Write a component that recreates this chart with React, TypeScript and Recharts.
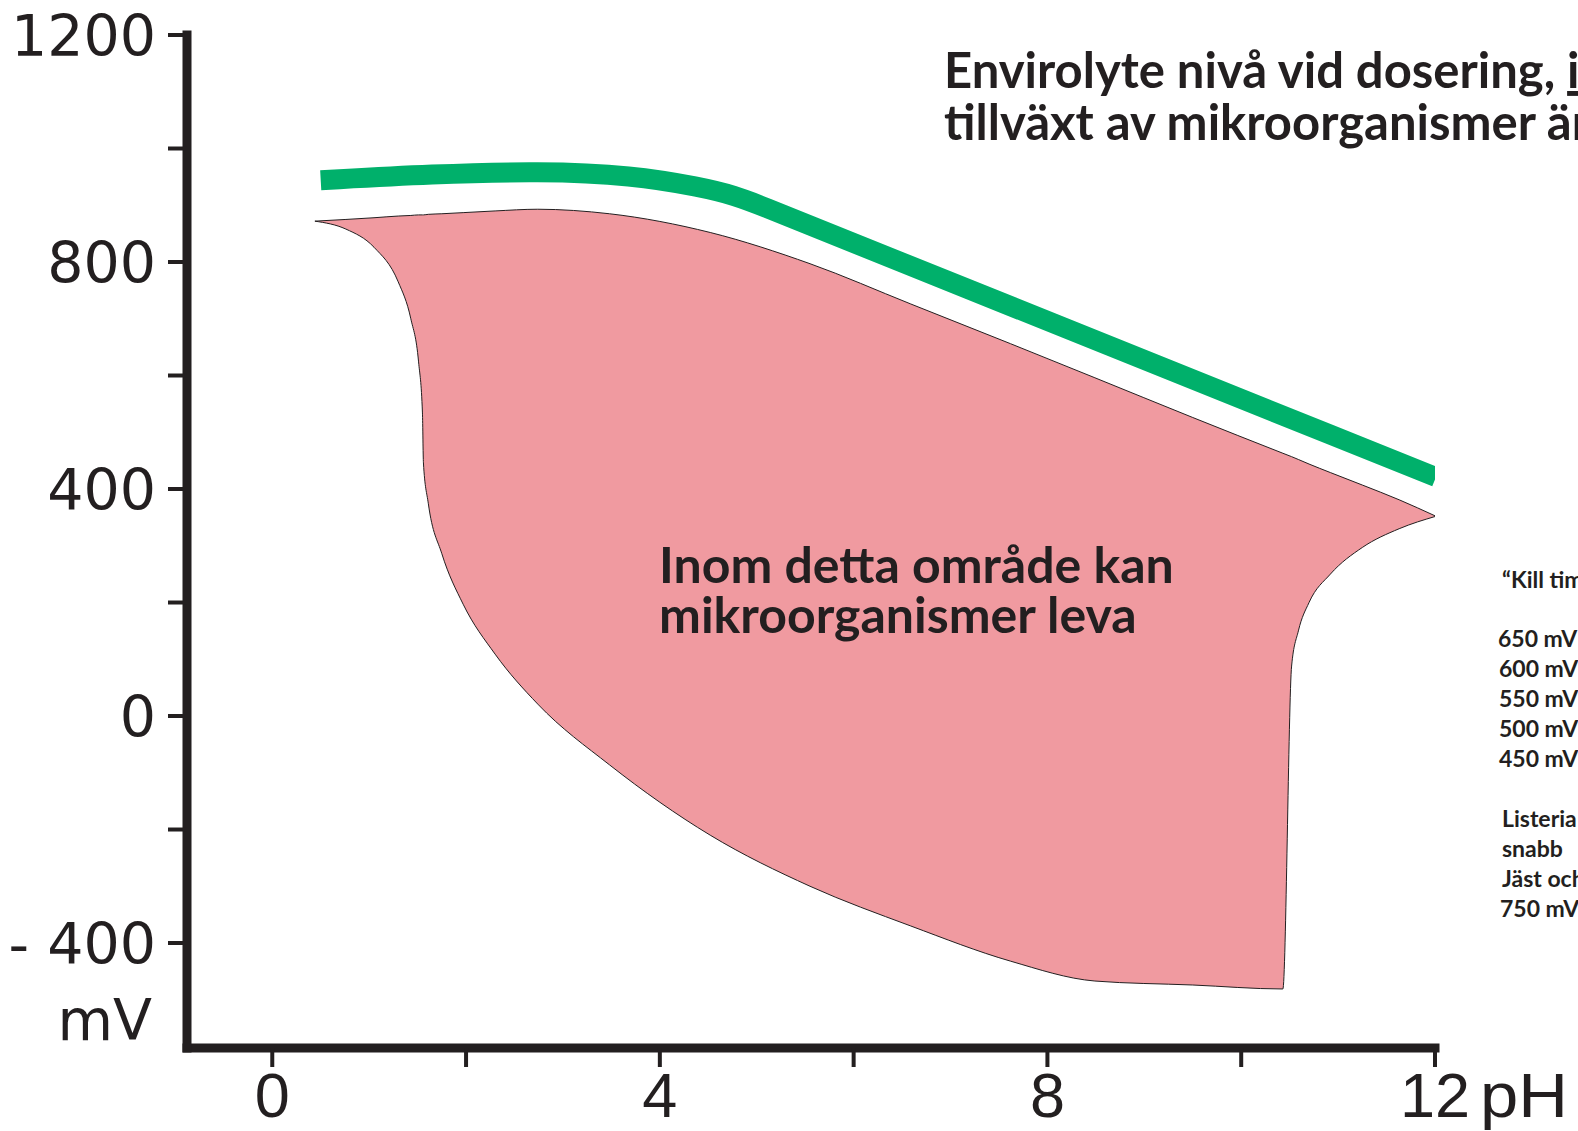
import React from 'react';
import { ComposedChart, Area, Line, XAxis, YAxis } from 'recharts';

const phTicks = [0, 2, 4, 6, 8, 10, 12];
const phLabels = [0, 4, 8, 12];
const mvTicks = [-400, -200, 0, 200, 400, 600, 800, 1000, 1200];
const mvLabels = [-400, 0, 400, 800, 1200];

// Envirolyte dosing level (green band)
const dosePh = [0.5, 1.66, 2.76, 3.72, 4.42, 4.76, 5.11, 5.45, 12.01];
const doseMv = [944, 955, 960, 953, 932, 918, 895, 871, 421];

// zone where micro-organisms can live (pink), lower and upper edge in mV
const zonePh = [0.44, 0.76, 1.05, 1.3, 1.43, 1.51, 1.55, 1.56, 1.61, 1.75, 1.97, 2.3, 2.74, 3.48, 4.52, 5.55, 6.59, 7.62, 8.49, 9.5, 10.43, 10.52, 10.59, 10.7, 10.92, 11.25, 11.63, 12.01];
const zoneLow = [872, 858, 826, 765, 700, 624, 534, 446, 375, 286, 197, 109, 21, -86, -210, -300, -370, -432, -467, -474, -481, 88, 150, 200, 250, 297, 330, 352];
const zoneHigh = [872, 875, 878, 881, 882, 883, 883, 883, 884, 885, 887, 890, 893, 885, 852, 797, 726, 656, 596, 526, 463, 457, 452, 444, 429, 407, 381, 352];

const killLines = ['“Kill time”', '', '650  mV', '600 mV', '550 mV', '500 mV', '450 mV', '', 'Listeria', 'snabb', 'Jäst och', '750 mV'];
const killX = [1502, 0, 1498, 1499, 1499, 1499, 1499, 0, 1502, 1502, 1502, 1500];

const doseData = dosePh.map((ph, i) => ({ ph, mv: doseMv[i] }));
const zoneData = zonePh.map((ph, i) => ({ ph, range: [zoneLow[i], zoneHigh[i]] }));

const INK = '#231f20';
const boldFont = "Lato, 'Open Sans', sans-serif";
const axisFont = "'Liberation Sans', Arial, sans-serif";

const MvTick = (props: any) => {
  const { x, y, payload } = props;
  if (!mvLabels.includes(payload.value)) return <g />;
  const v = payload.value;
  const label = v < 0 ? `- ${Math.abs(v)}` : String(v);
  return (
    <text x={x - 10} y={y} dy={21} textAnchor="end" fill={INK}
      style={{ fontFamily: "'DejaVu Sans', sans-serif", fontSize: 57 }}>
      {label}
    </text>
  );
};

const PhTick = (props: any) => {
  const { x, y, payload } = props;
  if (!phLabels.includes(payload.value)) return <g />;
  return (
    <g>
      <text x={x} y={y} dy={48} textAnchor="middle" fill={INK} style={{ fontFamily: axisFont, fontSize: 63 }}>
        {payload.value}
      </text>
      {payload.value === 12 && (
        <text x={x + 45} y={y} dy={48} fill={INK} textLength={88} lengthAdjust="spacingAndGlyphs"
          style={{ fontFamily: axisFont, fontSize: 63 }}>
          pH
        </text>
      )}
    </g>
  );
};

export default function App() {
  return (
    <div style={{ position: 'absolute', left: 0, top: 0, width: 1578, height: 1131, overflow: 'hidden', background: '#fff' }}>
      <ComposedChart width={1578} height={1131} margin={{ top: 35, right: 143, bottom: 0, left: 0 }}>
        <XAxis
          type="number"
          dataKey="ph"
          domain={[-0.88, 12]}
          ticks={phTicks}
          interval={0}
          allowDataOverflow
          height={83}
          tickSize={19}
          axisLine={{ stroke: INK, strokeWidth: 9, strokeLinecap: 'square' }}
          tickLine={{ stroke: INK, strokeWidth: 4 }}
          tick={PhTick}
        />
        <YAxis
          type="number"
          domain={[-585, 1200]}
          ticks={mvTicks}
          interval={0}
          allowDataOverflow
          width={187}
          tickSize={19}
          axisLine={{ stroke: INK, strokeWidth: 9, strokeLinecap: 'square' }}
          tickLine={{ stroke: INK, strokeWidth: 4 }}
          tick={MvTick}
        />
        <Area
          data={zoneData}
          dataKey="range"
          type="monotone"
          fill="#f09aa0"
          fillOpacity={1}
          stroke={INK}
          strokeWidth={1}
          isAnimationActive={false}
        />
        <Line
          data={doseData}
          dataKey="mv"
          type="basis"
          stroke="#00b06b"
          strokeWidth={20}
          strokeLinecap="butt"
          dot={false}
          activeDot={false}
          isAnimationActive={false}
        />
      </ComposedChart>

      <svg width={1578} height={1131} style={{ position: 'absolute', left: 0, top: 0, pointerEvents: 'none' }}>
        <text x={152} y={1040} textAnchor="end" fill={INK} style={{ fontFamily: "'DejaVu Sans', sans-serif", fontSize: 57 }}>
          mV
        </text>
        <text fill={INK} style={{ fontFamily: boldFont, fontWeight: 700, fontSize: 49 }}>
          <tspan x={944} y={88}>
            Envirolyte nivå vid dosering, <tspan textDecoration="underline">ingen</tspan>
          </tspan>
          <tspan x={944} y={140}>tillväxt av mikroorganismer är</tspan>
        </text>
        <text fill={INK} style={{ fontFamily: boldFont, fontWeight: 700, fontSize: 50 }}>
          <tspan x={659} y={583}>Inom detta område kan</tspan>
          <tspan x={659} y={633}>mikroorganismer leva</tspan>
        </text>
        <g fill={INK} style={{ fontFamily: boldFont, fontWeight: 700, fontSize: 23, whiteSpace: 'pre' }}>
          {killLines.map((t, i) =>
            t ? (
              <text key={i} x={killX[i]} y={588 + i * 30 - (i > 0 ? 1 : 0)}>
                {t}
              </text>
            ) : null
          )}
        </g>
      </svg>
    </div>
  );
}
